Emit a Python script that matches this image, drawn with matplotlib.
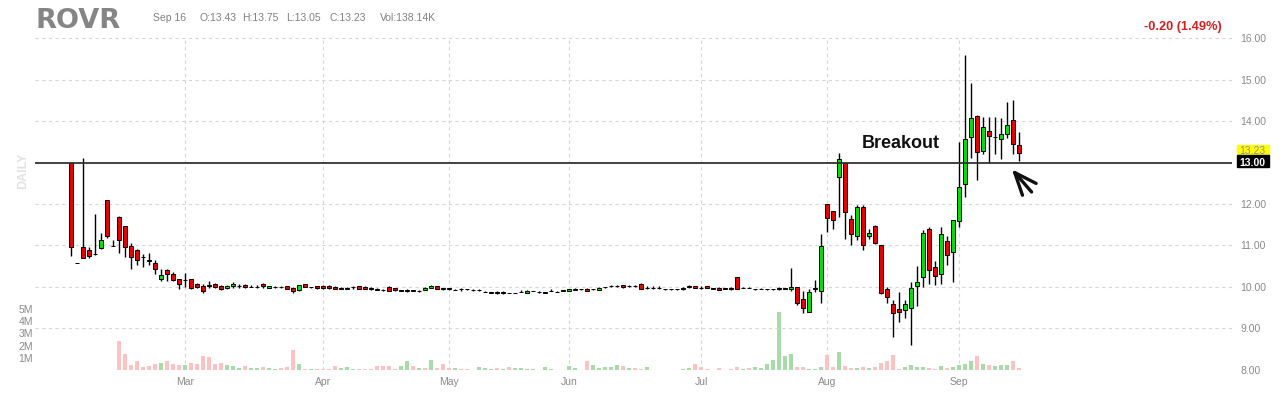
import matplotlib.pyplot as plt
import matplotlib.patches as mpatches
import pandas as pd

# GLOBALS
W, H = 1280, 400
COLOR_UP = "#00e000"
COLOR_DOWN = "#e80000"
VOL_UP = "#a9dba9"
VOL_DOWN = "#ffc2c2"
GRID = "#d6d6d6"
TEXT_GRAY = "#8a8a8a"
plt.rcParams["font.family"] = ["Liberation Sans", "DejaVu Sans"]

# Trading calendar (Feb 1 - Sep 16)
HOLIDAYS = ["2021-02-15", "2021-04-02", "2021-05-31", "2021-07-05", "2021-09-06"]
MONTHS = ["Mar", "Apr", "May", "Jun", "Jul", "Aug", "Sep"]
PRICE_TICKS = [8, 9, 10, 11, 12, 14, 15, 16]
VOL_TICKS = [1, 2, 3, 4, 5]
LEVEL = 13.00

# OHLC per trading day
opens = [
    12.98, 10.57, 10.97, 10.90, 10.80, 10.94, 12.09, 10.98, 11.68, 11.47,
    10.98, 10.89, 10.73, 10.64, 10.58, 10.20, 10.40, 10.32, 10.19, 10.16,
    10.18, 10.06, 10.03, 10.03, 10.07, 10.03, 9.97, 10.02, 10.02, 10.05,
    10.00, 10.00, 10.08, 9.98, 10.00, 10.00, 10.02, 9.97, 9.92, 10.07,
    9.99, 10.02, 10.02, 10.03, 10.00, 9.96, 9.95, 9.99, 10.01, 10.00,
    9.98, 9.96, 9.93, 10.00, 9.97, 9.91, 9.91, 9.91, 9.90, 9.93,
    9.98, 10.01, 9.97, 9.97, 9.93, 9.94, 9.94, 9.93, 9.92, 9.88,
    9.86, 9.86, 9.86, 9.85, 9.85, 9.88, 9.85, 9.90, 9.88, 9.86,
    9.90, 9.88, 9.91, 9.90, 9.93, 9.94, 9.96, 9.94, 9.93, 9.99,
    10.02, 10.02, 10.04, 10.02, 10.02, 10.08, 9.98, 9.98, 9.98, 9.94,
    9.94, 9.94, 9.96, 10.02, 10.02, 9.98, 10.02, 9.96, 9.98, 9.96,
    9.96, 10.23, 9.98, 9.98, 9.94, 9.94, 9.94, 9.94, 9.96, 9.96,
    9.95, 10.00, 9.70, 9.40, 9.96, 9.90, 12.00, 11.84, 12.64, 12.98,
    11.64, 11.23, 11.93, 11.23, 11.48, 11.00, 9.94, 9.58, 9.46, 9.44,
    9.50, 10.03, 10.23, 11.40, 10.47, 10.31, 11.11, 10.83, 11.59, 12.48,
    13.62, 14.12, 13.28, 13.76, 13.62, 13.58, 13.69, 14.03, 13.43,
]
highs = [
    13.00, 10.57, 13.10, 10.96, 11.77, 11.29, 12.09, 11.14, 11.70, 11.47,
    11.05, 10.92, 10.79, 10.81, 10.66, 10.44, 10.44, 10.35, 10.20, 10.34,
    10.20, 10.10, 10.06, 10.15, 10.10, 10.05, 10.04, 10.12, 10.08, 10.07,
    10.05, 10.05, 10.10, 10.03, 10.02, 10.03, 10.03, 9.99, 10.05, 10.08,
    10.00, 10.03, 10.04, 10.04, 10.02, 10.00, 9.99, 10.02, 10.02, 10.01,
    9.99, 9.97, 9.96, 10.01, 9.98, 9.92, 9.94, 9.92, 9.93, 9.99,
    10.04, 10.02, 9.98, 9.98, 9.94, 9.97, 9.95, 9.96, 9.95, 9.89,
    9.87, 9.89, 9.89, 9.86, 9.86, 9.92, 9.92, 9.91, 9.91, 9.87,
    9.94, 9.89, 9.92, 9.95, 9.97, 9.95, 9.97, 9.95, 9.99, 10.00,
    10.05, 10.05, 10.05, 10.05, 10.05, 10.09, 10.01, 10.01, 10.01, 9.95,
    9.95, 9.95, 9.99, 10.04, 10.03, 10.01, 10.03, 9.97, 9.99, 9.97,
    9.99, 10.24, 9.99, 9.99, 9.95, 9.97, 9.95, 9.95, 9.99, 9.97,
    10.46, 10.00, 9.90, 9.95, 10.16, 11.27, 12.00, 11.84, 13.24, 13.00,
    11.73, 11.98, 11.98, 11.40, 11.50, 11.02, 10.00, 9.68, 9.88, 9.68,
    10.12, 10.50, 11.37, 11.45, 10.63, 11.45, 11.22, 11.61, 13.50, 15.60,
    14.93, 14.15, 14.10, 14.10, 14.10, 14.07, 14.47, 14.50, 13.75,
]
lows = [
    10.74, 10.57, 10.69, 10.69, 10.78, 10.92, 11.17, 10.98, 10.81, 10.71,
    10.42, 10.52, 10.48, 10.52, 10.32, 10.15, 10.15, 10.15, 9.96, 10.00,
    9.95, 9.97, 9.86, 9.97, 9.97, 9.93, 9.95, 9.97, 9.97, 9.98,
    10.00, 9.97, 9.98, 9.97, 9.98, 9.97, 9.95, 9.85, 9.90, 9.99,
    9.98, 9.96, 9.96, 9.96, 9.95, 9.96, 9.94, 9.96, 9.95, 9.95,
    9.93, 9.92, 9.90, 9.90, 9.91, 9.90, 9.88, 9.90, 9.88, 9.92,
    9.97, 9.95, 9.93, 9.93, 9.92, 9.91, 9.93, 9.90, 9.89, 9.87,
    9.85, 9.83, 9.83, 9.84, 9.84, 9.88, 9.84, 9.89, 9.85, 9.85,
    9.90, 9.87, 9.90, 9.89, 9.92, 9.93, 9.90, 9.93, 9.92, 9.98,
    9.99, 9.99, 9.98, 9.99, 9.99, 9.96, 9.95, 9.95, 9.95, 9.93,
    9.93, 9.93, 9.93, 9.98, 9.97, 9.95, 9.97, 9.95, 9.92, 9.95,
    9.93, 9.96, 9.97, 9.97, 9.93, 9.94, 9.93, 9.93, 9.93, 9.95,
    9.91, 9.55, 9.36, 9.40, 9.88, 9.61, 11.33, 11.40, 11.69, 11.15,
    11.02, 11.12, 10.89, 11.15, 11.03, 9.82, 9.62, 8.78, 9.16, 9.26,
    8.59, 9.53, 10.00, 10.08, 10.05, 10.08, 10.52, 10.12, 11.45, 12.17,
    13.10, 12.58, 13.20, 12.98, 13.20, 13.08, 13.60, 13.20, 13.05,
]
closes = [
    10.97, 10.57, 10.69, 10.74, 10.79, 11.14, 11.22, 10.98, 11.14, 10.95,
    10.71, 10.66, 10.72, 10.63, 10.44, 10.28, 10.31, 10.16, 10.07, 10.16,
    9.98, 10.00, 9.90, 10.03, 10.00, 9.95, 10.02, 10.07, 10.02, 10.00,
    10.00, 10.00, 10.02, 10.02, 10.00, 10.00, 9.96, 9.90, 10.04, 10.00,
    9.99, 9.97, 9.97, 9.97, 9.96, 9.96, 9.98, 9.99, 9.96, 9.96,
    9.94, 9.93, 9.93, 9.91, 9.92, 9.91, 9.91, 9.91, 9.90, 9.98,
    10.03, 9.96, 9.94, 9.94, 9.93, 9.94, 9.94, 9.93, 9.92, 9.88,
    9.86, 9.86, 9.86, 9.85, 9.85, 9.88, 9.91, 9.90, 9.88, 9.86,
    9.90, 9.88, 9.91, 9.94, 9.96, 9.94, 9.91, 9.94, 9.98, 9.99,
    10.02, 10.02, 9.99, 10.02, 10.02, 9.96, 9.98, 9.98, 9.98, 9.94,
    9.94, 9.94, 9.96, 9.99, 9.98, 9.98, 9.98, 9.96, 9.93, 9.96,
    9.96, 9.96, 9.98, 9.98, 9.94, 9.94, 9.94, 9.94, 9.96, 9.96,
    10.00, 9.60, 9.49, 9.88, 9.96, 10.98, 11.65, 11.61, 13.08, 11.80,
    11.27, 11.93, 11.00, 11.29, 11.05, 9.86, 9.76, 9.37, 9.40, 9.58,
    9.98, 10.11, 11.29, 10.40, 10.26, 11.27, 10.77, 11.61, 12.40, 13.58,
    14.07, 13.26, 13.86, 13.65, 13.62, 13.70, 13.91, 13.44, 13.23,
]

# Volume in millions
volume = [
    0, 0, 0, 0, 0, 0, 0, 0, 2.36, 1.27,
    0.37, 0.72, 0.20, 0.29, 0.45, 0.53, 0.72, 0.45, 0.37, 0.37,
    0.53, 0.45, 1.10, 1.02, 0.45, 0.53, 0.37, 0.29, 0.12, 0.29,
    0.12, 0.12, 0.20, 0.12, 0.04, 0.12, 0.20, 1.60, 0.45, 0.05,
    0.05, 0.05, 0.05, 0.05, 0.29, 0.12, 0.20, 0.05, 0.05, 0.05,
    0.05, 0.29, 0.29, 0.29, 0.05, 0.29, 0.72, 0.29, 0.12, 0.12,
    0.78, 0.12, 0.45, 0.12, 0.12, 0.05, 0.05, 0, 0.20, 0.12,
    0.05, 0.12, 0.05, 0.20, 0.12, 0.12, 0.05, 0.05, 0, 0.20,
    0.05, 0, 0, 0.29, 0.12, 0, 0.72, 0.37, 0.12, 0.20,
    0.20, 0.37, 0.29, 0.12, 0.12, 0.05, 0.20, 0, 0, 0,
    0, 0, 0.05, 0.12, 0.45, 0.20, 0.05, 0, 0.12, 0,
    0.05, 0.20, 0.05, 0.12, 0.20, 0.12, 0.45, 0.78, 4.80, 1.10,
    1.27, 0.20, 0.20, 0.05, 0.05, 0.20, 1.19, 0.20, 1.43, 0.29,
    0.12, 0.12, 0.20, 0.12, 0.20, 0.53, 0.70, 1.19, 0.05, 0.20,
    0.37, 0.20, 0.20, 0.12, 0.05, 0.29, 0.12, 0.20, 0.37, 0.45,
    0.70, 1.10, 0.45, 0.37, 0.29, 0.37, 0.37, 0.70, 0.12,
]
# u = green volume bar, d = pink volume bar
vol_dir = """
d d d d d d d d d d
d d d d d u d d d u
d d d d d d u u u d
u u d u u d d d u d
u d d d d u u u d d
d d d d d u u d u d
u d d d u d d d u u
u d u d u u u u d u
u d d u u d d u u u
u u d u d d u d d d
d d u u d d d d d d
d d u d u u u u u u
u d d u u u d d u d
d u d u d d d d d u
u u u d d u d u u u
u d u d u u u d d
""".split()

# Header line
HEADER = ["Sep 16", "O:13.43", "H:13.75", "L:13.05", "C:13.23", "Vol:138.14K"]
HEADER_X = [153, 199, 242, 286, 330, 380]


def px(x, y):
    """figure pixel -> figure fraction"""
    return x / W, 1 - y / H


dates = pd.bdate_range("2021-02-01", "2021-09-16", freq="C", holidays=HOLIDAYS)
idx = list(range(len(dates)))
month_idx = [i for i in idx[1:] if dates[i].month != dates[i - 1].month]

fig = plt.figure(figsize=(W / 100, H / 100), dpi=100)
rect = [35 / W, (H - 369.7) / H, (1232 - 35) / W, (369.7 - 38.3) / H]
ax_vol = fig.add_axes(rect)
ax = fig.add_axes(rect, sharex=ax_vol)
ax.patch.set_visible(False)

# Volume bars
vcols = [VOL_UP if d == "u" else VOL_DOWN for d in vol_dir]
ax_vol.bar(idx, volume, width=0.82, color=vcols, zorder=2)
ax_vol.set_ylim(0, 27.4)
ax_vol.set_yticks(VOL_TICKS)
ax_vol.set_yticklabels([f"{v}M" for v in VOL_TICKS])
ax_vol.tick_params(axis="y", length=0, pad=1.5, labelsize=7.5, labelcolor=TEXT_GRAY)
ax_vol.tick_params(axis="x", length=0, pad=5, labelsize=7.5, labelcolor=TEXT_GRAY)
ax_vol.set_xticks(month_idx)
ax_vol.set_xticklabels(MONTHS)
ax_vol.grid(axis="x", color=GRID, ls=(0, (3, 3)), lw=0.8)
for s in ax_vol.spines.values():
    s.set_visible(False)

# Candles
for i in idx:
    o, h, l, c = opens[i], highs[i], lows[i], closes[i]
    if c > o:
        fill = COLOR_UP
    elif c < o:
        fill = COLOR_DOWN
    else:
        fill = "black"
    ax.vlines(i, l, h, color="black", lw=1, zorder=4)
    ax.bar(i, max(abs(c - o), 0.004), bottom=min(o, c), width=0.78,
           color=fill, edgecolor="black", lw=0.7, zorder=5)

ax.set_xlim(-6, (1232 - 71) / 6)
ax.set_ylim(8, 16)
ax.yaxis.tick_right()
ax.set_yticks(PRICE_TICKS)
ax.set_yticklabels([f"{p:.2f}" for p in PRICE_TICKS])
ax.tick_params(axis="y", length=0, pad=6, labelsize=7.5, labelcolor=TEXT_GRAY)
ax.tick_params(axis="x", length=0, labelbottom=False)
ax.grid(axis="y", color=GRID, ls=(0, (3, 3)), lw=0.8)
for s in ax.spines.values():
    s.set_visible(False)

# Breakout level
ax.axhline(LEVEL, color="#333333", lw=1.3, zorder=6)
ax.text(131.8, 13.36, "Breakout", fontsize=13, fontweight="bold",
        color="#111111", zorder=7)
ax.annotate("", xy=(156.8, 12.84), xytext=(160.1, 12.29),
            arrowprops=dict(arrowstyle="->, head_length=1.6, head_width=0.65",
                            lw=2.4, color="#111111", shrinkA=0, shrinkB=0),
            zorder=7)

# Right hand price tags
fig.patches.append(mpatches.Rectangle(px(1237, 155.5), 32 / W, 10 / H,
                                      transform=fig.transFigure,
                                      color="#ffff00", zorder=8))
fig.text(*px(1239, 154.5), "13.23", fontsize=7.5, color="#909090", zorder=9)
fig.patches.append(mpatches.Rectangle(px(1237, 167), 32 / W, 11.5 / H,
                                      transform=fig.transFigure,
                                      color="black", zorder=8))
fig.text(*px(1239, 165.5), "13.00", fontsize=7.5, fontweight="bold",
         color="white", zorder=9)

# Header
fig.text(*px(36, 28.3), "ROVR", fontsize=19.5, fontweight="bold",
         color="#858585", family="DejaVu Sans")
for label, x in zip(HEADER, HEADER_X):
    fig.text(*px(x, 21), label, fontsize=7.5, color="#808080")
fig.text(*px(1222, 30), "-0.20 (1.49%)", fontsize=9.2, fontweight="bold",
         color="#d42020", ha="right")
fig.text(*px(23, 171), "DAILY", fontsize=9, fontweight="bold", color="#e2e2e2",
         rotation=90, ha="center", va="center")

plt.savefig("out.png", dpi=100)
plt.close()
